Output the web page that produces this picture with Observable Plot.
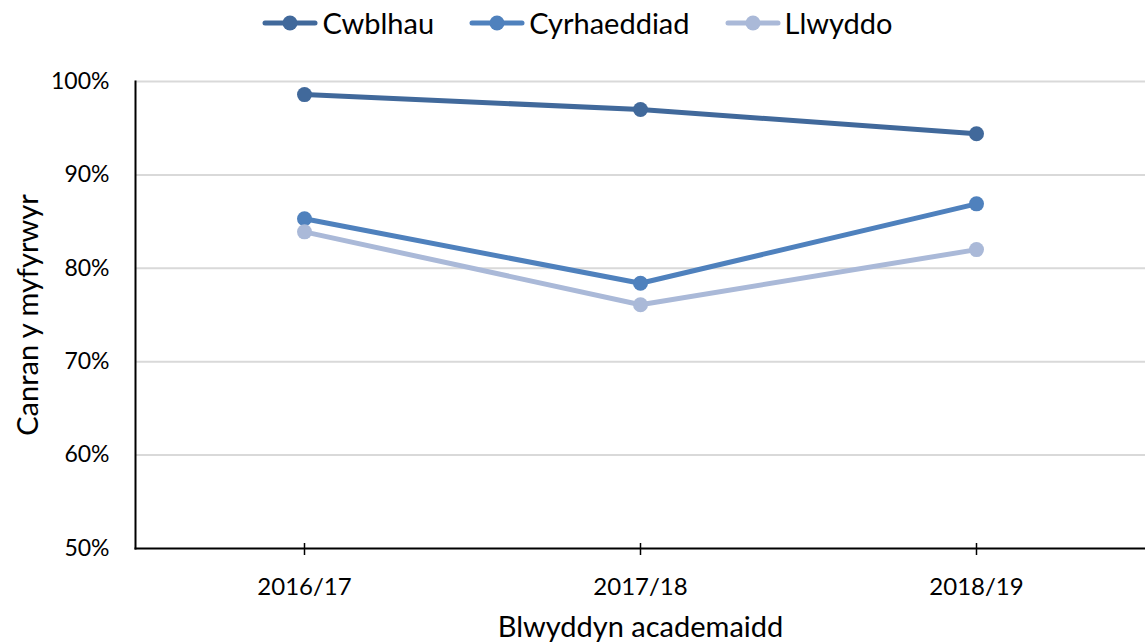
<!DOCTYPE html>
<html>
<head>
<meta charset="utf-8">
<script src="https://cdn.jsdelivr.net/npm/d3@7"></script>
<script src="https://cdn.jsdelivr.net/npm/@observablehq/plot@0.6"></script>
<style>
  html, body { margin: 0; padding: 0; background: #fff; }
  body { width: 1145px; height: 644px; overflow: hidden; font-family: Lato, "Open Sans", sans-serif; }
  #legend { height: 45px; display: flex; justify-content: center; align-items: center; padding-left: 10px; box-sizing: border-box; }
  .item { display: flex; align-items: center; font-size: 29px; line-height: 1; color: #000; margin-right: 35px; }
  .item:last-child { margin-right: 0; }
  .item svg { margin-right: 4px; }
</style>
</head>
<body>
<div id="legend"></div>
<div id="chart"></div>
<script>
const years = ["2016/17", "2017/18", "2018/19"];
const seriesNames = ["Cwblhau", "Cyrhaeddiad", "Llwyddo"];
const colors = ["#41699b", "#4f81bd", "#aab9d8"];
const cwblhau = [98.6, 97.0, 94.4];
const cyrhaeddiad = [85.3, 78.4, 86.9];
const llwyddo = [83.9, 76.1, 82.0];
const yTicks = [50, 60, 70, 80, 90, 100];
const gridLines = [60, 70, 80, 90, 100];

const seriesValues = [cwblhau, cyrhaeddiad, llwyddo];
const data = [];
seriesNames.forEach((s, i) => years.forEach((y, j) => data.push({series: s, year: y, value: seriesValues[i][j]})));

// legend
const legend = document.getElementById("legend");
seriesNames.forEach((s, i) => {
  const el = document.createElement("div");
  el.className = "item";
  el.innerHTML = `<svg width="56" height="18"><line x1="3" x2="53" y1="9" y2="9" stroke="${colors[i]}" stroke-width="5" stroke-linecap="round"/><circle cx="28" cy="9" r="7.5" fill="${colors[i]}"/></svg><span>${s}</span>`;
  legend.appendChild(el);
});

const chart = Plot.plot({
  width: 1145,
  height: 599,
  marginTop: 36,
  marginBottom: 96,
  marginLeft: 135,
  marginRight: 0,
  style: {fontFamily: "Lato, 'Open Sans', sans-serif", color: "#000", background: "#fff"},
  x: {type: "point", domain: years, padding: 0.5, label: null},
  y: {domain: [50, 100], label: null},
  color: {domain: seriesNames, range: colors},
  marks: [
    Plot.ruleY(gridLines, {stroke: "#d9d9d9", strokeWidth: 2}),
    Plot.axisY({ticks: yTicks, tickSize: 0, tickPadding: 26, tickFormat: d => d + "%", fontSize: 23, label: null}),
    Plot.axisX({tickSize: 7, tickPadding: 22, fontSize: 24, label: null, strokeWidth: 1.5}),
    Plot.axisX({tickSize: -5, tickFormat: () => "", label: null, strokeWidth: 1.5}),
    Plot.frame({anchor: "left", stroke: "#000", strokeWidth: 2}),
    Plot.frame({anchor: "bottom", stroke: "#000", strokeWidth: 2}),
    Plot.line(data, {x: "year", y: "value", stroke: "series", strokeWidth: 5, z: "series"}),
    Plot.dot(data, {x: "year", y: "value", fill: "series", r: 7.5}),
    Plot.text(["Canran y myfyrwyr"], {frameAnchor: "left", rotate: -90, dx: -107, fontSize: 29, fill: "#000", textAnchor: "middle", lineAnchor: "middle"}),
    Plot.text(["Blwyddyn academaidd"], {frameAnchor: "bottom", dy: 79, fontSize: 29, fill: "#000", lineAnchor: "middle"})
  ]
});
document.getElementById("chart").appendChild(chart);
</script>
</body>
</html>
